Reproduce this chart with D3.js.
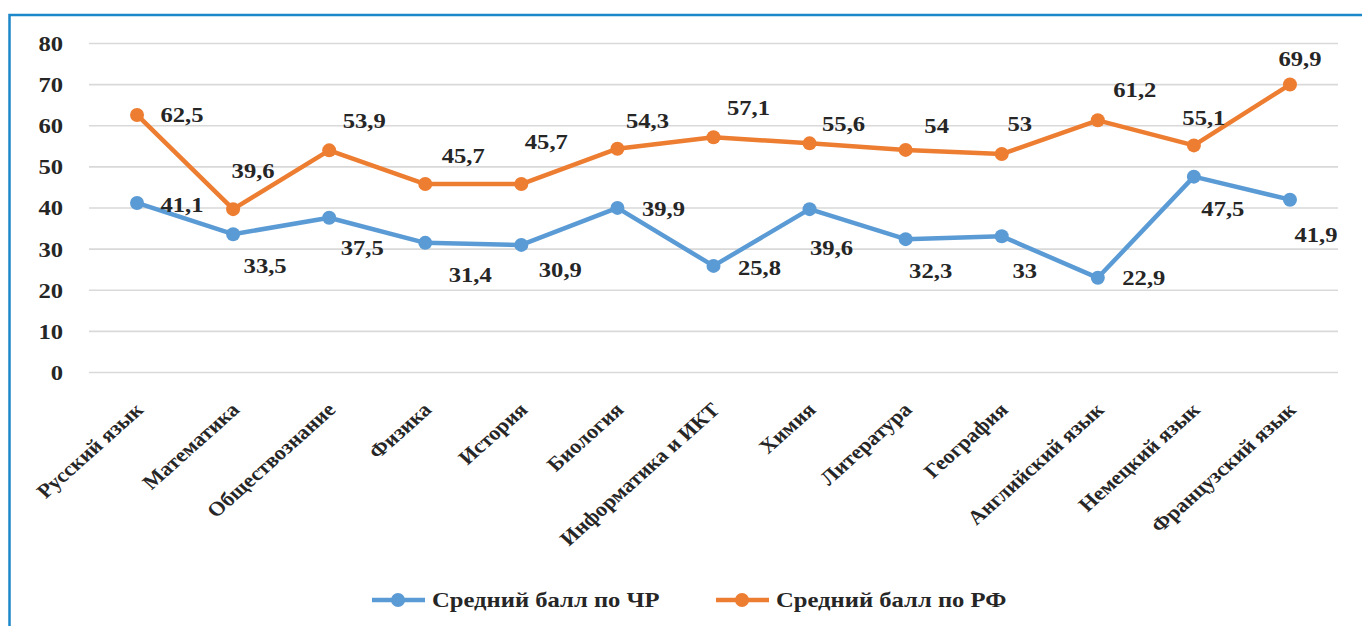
<!DOCTYPE html>
<html>
<head>
<meta charset="utf-8">
<script src="https://cdn.jsdelivr.net/npm/d3@7"></script>
<style>
  body { margin: 0; background: #fff; }
  text { font-family: "Liberation Serif", "Times New Roman", serif; font-weight: bold; fill: #262626; }
</style>
</head>
<body>
<div id="container"></div>
<script>
const width = 1362;
const height = 626;

const subjects = ["Русский язык", "Математика", "Обществознание", "Физика", "История", "Биология",
  "Информатика и ИКТ", "Химия", "Литература", "География", "Английский язык", "Немецкий язык", "Французский язык"];
const scoreCR = [41.1, 33.5, 37.5, 31.4, 30.9, 39.9, 25.8, 39.6, 32.3, 33, 22.9, 47.5, 41.9];
const scoreRF = [62.5, 39.6, 53.9, 45.7, 45.7, 54.3, 57.1, 55.6, 54, 53, 61.2, 55.1, 69.9];
const yTicks = [0, 10, 20, 30, 40, 50, 60, 70, 80];
const seriesNames = ["Средний балл по ЧР", "Средний балл по РФ"];

// label offsets (centre of label relative to point), placed by hand like in the original
const offsetCR = [[45, 2], [32, 31], [33, 30], [45, 32], [39, 25], [46, 1], [46, 2], [22, 38], [25, 31], [23, 34], [46, 0], [29, 32], [26, 35]];
const offsetRF = [[45, 0], [20, -39], [35, -30], [38, -29], [25, -43], [30, -28], [35, -30], [34, -20], [31, -24], [18, -31], [37, -31], [10, -28], [10, -26]];

const colors = ["#5b9bd5", "#ed7d31"];
const sx = 1.12; // text in the picture is a bit stretched sideways

const margin = {left: 89, right: 24, top: 43, bottom: 254};

const svg = d3.select("#container")
              .append("svg")
              .attr("width", width)
              .attr("height", height);

svg.append("rect").attr("width", width).attr("height", height).attr("fill", "#fff");

// frame
svg.append("path")
   .attr("d", "M9.5," + height + " V15 H" + width)
   .attr("fill", "none")
   .attr("stroke", "#1d88c9")
   .attr("stroke-width", 2.5);

const x = d3.scalePoint()
            .domain(subjects)
            .range([margin.left, width - margin.right])
            .padding(0.5);
const y = d3.scaleLinear()
            .domain([0, 80])
            .range([height - margin.bottom, margin.top]);

// y axis + grid
const yAxis = svg.append("g")
                 .attr("transform", "translate(" + margin.left + ",0)")
                 .call(d3.axisLeft(y)
                         .tickValues(yTicks)
                         .tickSize(-(width - margin.left - margin.right))
                         .tickPadding(0));
yAxis.select(".domain").remove();
yAxis.selectAll("line").attr("stroke", "#d9d9d9").attr("stroke-width", 1.6);
yAxis.selectAll("text")
     .attr("x", -26 / sx)
     .attr("dy", "0.34em")
     .attr("transform", "scale(" + sx + ",1)")
     .style("font-size", "22px")
     .style("fill", "#262626");

// x axis labels
const xAxis = svg.append("g")
                 .attr("transform", "translate(0," + y(0) + ")")
                 .call(d3.axisBottom(x).tickSize(0));
xAxis.select(".domain").remove();
xAxis.selectAll("text")
     .attr("x", null)
     .attr("y", null)
     .attr("dy", null)
     .attr("text-anchor", "end")
     .attr("transform", "translate(7,39) scale(" + sx + ",1) rotate(-45)")
     .style("font-size", "20px")
     .style("fill", "#262626");

const line = d3.line()
               .x((d, i) => x(subjects[i]))
               .y(d => y(d));

const series = [scoreCR, scoreRF];
const offsets = [offsetCR, offsetRF];

series.forEach((values, s) => {
  svg.append("path")
     .datum(values)
     .attr("d", line)
     .attr("fill", "none")
     .attr("stroke", colors[s])
     .attr("stroke-width", 4.5)
     .attr("stroke-linejoin", "round");
  svg.append("g")
     .selectAll("circle")
     .data(values)
     .enter()
     .append("circle")
     .attr("cx", (d, i) => x(subjects[i]))
     .attr("cy", d => y(d))
     .attr("r", 7)
     .attr("fill", colors[s]);
});

series.forEach((values, s) => {
  svg.append("g")
     .selectAll("text")
     .data(values)
     .enter()
     .append("text")
     .attr("transform", (d, i) => "translate(" + (x(subjects[i]) + offsets[s][i][0]) + "," + (y(d) + offsets[s][i][1]) + ") scale(" + sx + ",1)")
     .attr("text-anchor", "middle")
     .attr("dy", "0.34em")
     .style("font-size", "22px")
     .text(d => String(d).replace(".", ","));
});

// legend
const legendX = [398, 742];
const legend = svg.append("g")
                  .selectAll("g")
                  .data(seriesNames)
                  .enter()
                  .append("g")
                  .attr("transform", (d, i) => "translate(" + legendX[i] + ",600)");
legend.append("line")
      .attr("x1", -26)
      .attr("x2", 27)
      .attr("stroke", (d, i) => colors[i])
      .attr("stroke-width", 4.5);
legend.append("circle")
      .attr("r", 7)
      .attr("fill", (d, i) => colors[i]);
legend.append("text")
      .attr("transform", "translate(34,0) scale(" + sx + ",1)")
      .attr("dy", "0.34em")
      .style("font-size", "22px")
      .text(d => d);
</script>
</body>
</html>
